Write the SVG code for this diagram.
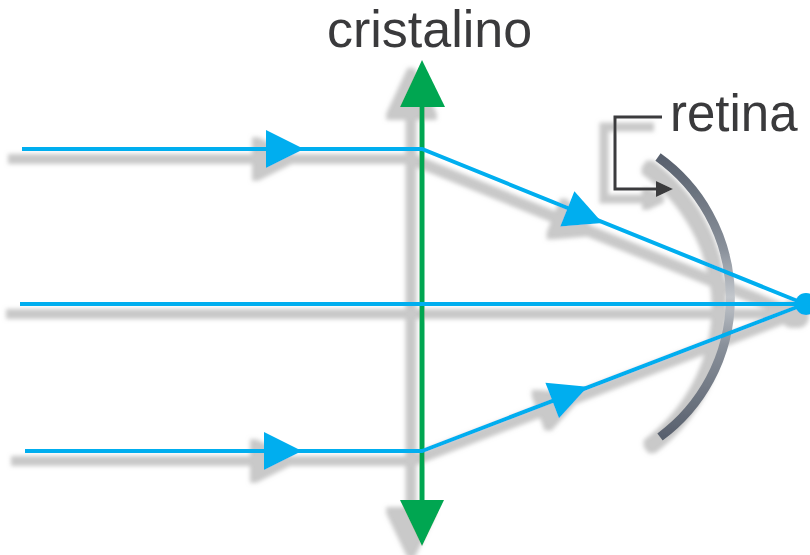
<svg xmlns="http://www.w3.org/2000/svg" xmlns:xlink="http://www.w3.org/1999/xlink" width="810" height="555" viewBox="0 0 810 555">
<style>
.ray{fill:none;stroke:#00aeef;stroke-width:4;}
.ah{fill:#00aeef;}
.lens{stroke:#00a651;stroke-width:5;fill:none;}
.lensHead{fill:#00a651;}
.lbl{font-family:"Liberation Sans",Arial,sans-serif;fill:#3a3a3c;}
.brk{fill:none;stroke:#3a3a3c;stroke-width:3;}
</style>
<defs>
<filter id="sh" x="-10%" y="-10%" width="120%" height="120%">
<feMorphology in="SourceAlpha" operator="dilate" radius="3" result="d"/>
<feGaussianBlur in="d" stdDeviation="2" result="b"/>
<feOffset in="b" dx="-11" dy="10" result="o"/>
<feFlood flood-color="#a4a4a4" flood-opacity="0.6"/>
<feComposite in2="o" operator="in" result="s"/>
<feMerge><feMergeNode in="s"/><feMergeNode in="SourceGraphic"/></feMerge>
</filter>
<path id="arr" d="M-18,-19 L20,0 L-18,19 Z"/>
<linearGradient id="retg" gradientUnits="userSpaceOnUse" x1="0" y1="157" x2="0" y2="437">
<stop offset="0" stop-color="#58606d"/>
<stop offset="0.33" stop-color="#8a919b"/>
<stop offset="0.5" stop-color="#c3c7cc"/>
<stop offset="0.67" stop-color="#8a919b"/>
<stop offset="1" stop-color="#58606d"/>
</linearGradient>
</defs>
<rect width="810" height="555" fill="#ffffff"/>
<g filter="url(#sh)">
<g id="cristalino">
<line class="lens" x1="422" y1="100" x2="422" y2="505"/>
<polygon class="lensHead" points="422,60 445,107 400,107"/>
<polygon class="lensHead" points="422,546 444,500 400,500"/>
</g>
<g id="retina">
<path d="M658 157 A173 173 0 0 1 660 437" fill="none" stroke="url(#retg)" stroke-width="9"/>
<path class="brk" d="M662 117 H615 V189 H658"/>
<polygon fill="#3a3a3c" points="673,189 656,181 656,197"/>
</g>
<g id="rays">
<polyline class="ray" points="22,149 422,149 805,304"/>
<line class="ray" x1="20" y1="304" x2="810" y2="304"/>
<polyline class="ray" points="25,451 422,451 805,304"/>
<use href="#arr" class="ah" transform="translate(284,149)"/>
<use href="#arr" class="ah" transform="translate(282,451)"/>
<use href="#arr" class="ah" transform="translate(584,215.5) rotate(21.9)"/>
<use href="#arr" class="ah" transform="translate(569,394) rotate(-20.9)"/>
</g>
<g id="foco">
<circle cx="806" cy="304" r="11" fill="#00aeef"/>
</g>
</g>
<text class="lbl" x="327" y="47" font-size="52">cristalino</text>
<text class="lbl" x="670" y="131" font-size="51">retina</text>
</svg>
